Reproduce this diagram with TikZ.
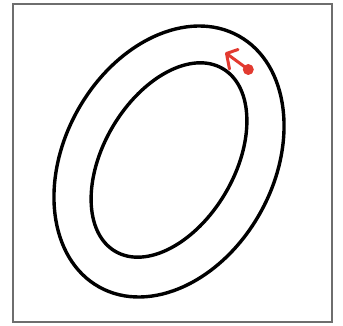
\documentclass[tikz,border=0pt]{standalone}
\usetikzlibrary{calc}
\definecolor{framegray}{RGB}{110,110,110}
\definecolor{markred}{RGB}{226,58,48}
\tikzset{
  ring/.style={draw=black, line width=3.4pt},
  framebox/.style={draw=framegray, line width=1.6pt},
  redline/.style={draw=markred, line width=3pt, line cap=round, line join=round},
}
\begin{document}
\begin{tikzpicture}[x=1pt,y=-1pt]
\useasboundingbox (0,0) rectangle (343,326);
\draw[framebox] (13,4) rectangle (332,322);
\coordinate (co) at (169,161.5);
\coordinate (ci) at (169,160);
\draw[ring, rotate around={-29:(co)}] (co) ellipse [x radius=104.7, y radius=143.6];
\draw[ring, rotate around={-30.5:(ci)}] (ci) ellipse [x radius=65.4, y radius=106];
\coordinate (dot) at (248.3,69.5);
\coordinate (tip) at (226.5,53.5);
\coordinate (armA) at (238,49.5);
\coordinate (armB) at (229.5,69);
\draw[redline] (dot) -- (tip);
\draw[redline] (armA) -- (tip) -- (armB);
\fill[markred] (dot) circle (5.5pt);
\end{tikzpicture}
\end{document}
